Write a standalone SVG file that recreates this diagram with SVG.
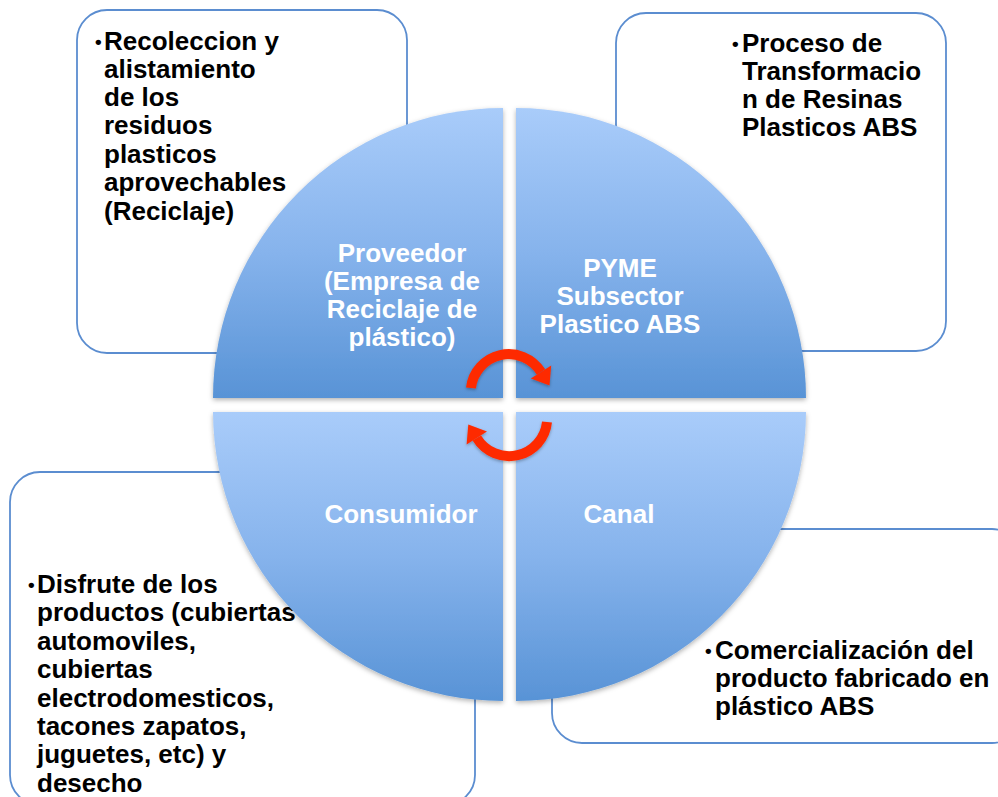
<svg xmlns="http://www.w3.org/2000/svg" width="998" height="797" viewBox="0 0 998 797">
<style>
.box{fill:#fff;stroke:#5b8dd0;stroke-width:1.8}
.bt{font-family:"Liberation Sans",Arial,sans-serif;font-weight:bold;font-size:26px;fill:#000}
.bu{font-size:19px}
.ct{font-family:"Liberation Sans",Arial,sans-serif;font-weight:bold;font-size:26px;fill:#fff;text-anchor:middle}
.q{fill:url(#qg);filter:url(#sh)}
.arc{fill:none;stroke:#fe2b05;stroke-width:10}
.head{fill:#fe2b05}
</style>
<defs>
<linearGradient id="qg" x1="0" y1="0" x2="0" y2="1">
<stop offset="0" stop-color="#a9ccfa"/>
<stop offset="0.5" stop-color="#86b3ec"/>
<stop offset="1" stop-color="#5893d6"/>
</linearGradient>
<filter id="sh" x="-10%" y="-10%" width="120%" height="120%">
<feDropShadow dx="0" dy="2" stdDeviation="2.5" flood-color="#000" flood-opacity="0.3"/>
</filter>
<filter id="ash" x="-20%" y="-20%" width="140%" height="140%">
<feDropShadow dx="0" dy="1.5" stdDeviation="1.5" flood-color="#000" flood-opacity="0.3"/>
</filter>
</defs>
<rect width="998" height="797" fill="#fff"/>

<g id="box-recoleccion">
<rect class="box" x="77" y="10" width="330" height="343" rx="30"/>
<text class="bt"><tspan class="bu" x="95" y="48">•</tspan><tspan x="104" y="50">Recoleccion y</tspan><tspan x="104" y="78">alistamiento</tspan><tspan x="104" y="106">de los</tspan><tspan x="104" y="134">residuos</tspan><tspan x="104" y="163">plasticos</tspan><tspan x="104" y="191">aprovechables</tspan><tspan x="104" y="220">(Reciclaje)</tspan></text>
</g>
<g id="box-proceso">
<rect class="box" x="616" y="13" width="330" height="338" rx="30"/>
<text class="bt"><tspan class="bu" x="732" y="50">•</tspan><tspan x="742" y="52">Proceso de</tspan><tspan x="742" y="80">Transformacio</tspan><tspan x="742" y="108">n de Resinas</tspan><tspan x="742" y="136">Plasticos ABS</tspan></text>
</g>
<g id="box-disfrute">
<rect class="box" x="10" y="472" width="465" height="333" rx="30"/>
<text class="bt"><tspan class="bu" x="28" y="591">•</tspan><tspan x="37" y="593">Disfrute de los</tspan><tspan x="37" y="621">productos (cubiertas</tspan><tspan x="37" y="650">automoviles,</tspan><tspan x="37" y="678">cubiertas</tspan><tspan x="37" y="707">electrodomesticos,</tspan><tspan x="37" y="735">tacones zapatos,</tspan><tspan x="37" y="763">juguetes, etc) y</tspan><tspan x="37" y="792">desecho</tspan></text>
</g>
<g id="box-comercializacion">
<rect class="box" x="552" y="529" width="470" height="214" rx="30"/>
<text class="bt"><tspan class="bu" x="705" y="657">•</tspan><tspan x="715" y="659">Comercialización del</tspan><tspan x="715" y="687">producto fabricado en</tspan><tspan x="715" y="715">plástico ABS</tspan></text>
</g>

<g id="node-proveedor">
<path class="q" d="M503,398 L213,398 A290,290 0 0 1 503,108 Z"/>
<text class="ct"><tspan x="402" y="262">Proveedor</tspan><tspan x="402" y="290">(Empresa de</tspan><tspan x="402" y="318">Reciclaje de</tspan><tspan x="402" y="346">plástico)</tspan></text>
</g>
<g id="node-pyme">
<path class="q" d="M516,398 L516,108 A290,290 0 0 1 806,398 Z"/>
<text class="ct"><tspan x="620" y="277">PYME</tspan><tspan x="620" y="305">Subsector</tspan><tspan x="620" y="333">Plastico ABS</tspan></text>
</g>
<g id="node-consumidor">
<path class="q" d="M503,412 L503,701 A290,290 0 0 1 213,412 Z"/>
<text class="ct" x="401" y="523">Consumidor</text>
</g>
<g id="node-canal">
<path class="q" d="M516,412 L806,412 A290,290 0 0 1 516,701 Z"/>
<text class="ct" x="619" y="523">Canal</text>
</g>

<g id="connectors" filter="url(#ash)">
<path class="arc" d="M471,388 A38,38 0 0 1 541,372"/>
<polygon class="head" points="551.2,365.6 530.8,378.4 549.5,385.6"/>
<path class="arc" d="M547,422 A38,38 0 0 1 476.8,438"/>
<polygon class="head" points="487,431.6 466.6,444.4 468.3,424.4"/>
</g>
</svg>
